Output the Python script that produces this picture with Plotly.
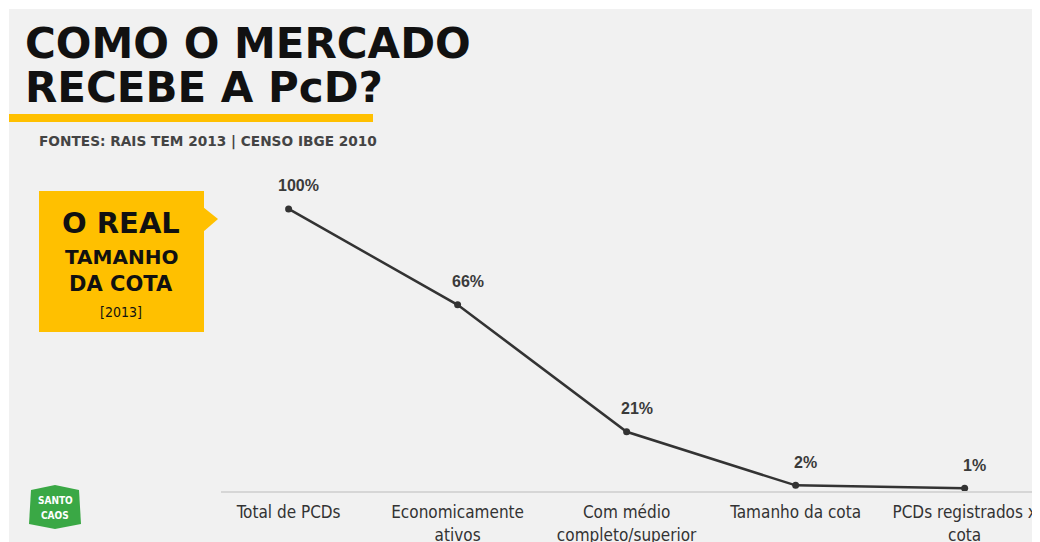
"""Como o mercado recebe a PcD? - line chart recreation."""

import plotly.graph_objects as go

# data
categories = [
    "Total de PCDs",
    "Economicamente<br>ativos",
    "Com médio<br>completo/superior",
    "Tamanho da cota",
    "PCDs registrados x<br>cota",
]
values = [100, 66, 21, 2, 1]
value_labels = ["100%", "66%", "21%", "2%", "1%"]

# page body adds an 8px offset, so the figure is a bit smaller than the window
OFF = 8
W, H = 1040 - OFF, 542 - OFF
YELLOW = "#FFC000"
BG = "#F1F1F1"
NARROW = "Liberation Sans Narrow, DejaVu Sans Condensed, Roboto Condensed, Liberation Sans"


def px(x):
    return (x - OFF) / W


def py(y):
    return 1 - (y - OFF) / H


fig = go.Figure()

fig.add_trace(go.Scatter(
    x=list(range(len(categories))),
    y=values,
    mode="lines+markers",
    line=dict(color="#333333", width=2.5),
    marker=dict(color="#333333", size=7),
    hoverinfo="skip",
))

# value labels above points
for i, (v, lab) in enumerate(zip(values, value_labels)):
    fig.add_annotation(
        x=i, y=v, xref="x", yref="y", text=lab, showarrow=False,
        xshift=10, yshift=23,
        font=dict(family="Liberation Sans", size=16, color="#3a3a3a", weight="bold"),
    )

shapes = [
    # gray card background
    dict(type="rect", xref="paper", yref="paper", x0=px(9), x1=px(1041),
         y0=py(543), y1=py(9), fillcolor=BG, line_width=0, layer="below"),
    # yellow underline
    dict(type="rect", xref="paper", yref="paper", x0=px(9), x1=px(373),
         y0=py(122), y1=py(114), fillcolor=YELLOW, line_width=0),
    # yellow box
    dict(type="rect", xref="paper", yref="paper", x0=px(39), x1=px(204),
         y0=py(332), y1=py(191), fillcolor=YELLOW, line_width=0),
    # box pointer
    dict(type="path", xref="paper", yref="paper",
         path=f"M {px(203)} {py(207)} L {px(218)} {py(219)} L {px(203)} {py(232)} Z",
         fillcolor=YELLOW, line_width=0),
    # logo
    dict(type="path", xref="paper", yref="paper",
         path=(f"M {px(31)} {py(490)} L {px(55)} {py(485)} L {px(79)} {py(490)} "
               f"L {px(81)} {py(524)} L {px(55)} {py(529)} L {px(29)} {py(524)} Z"),
         fillcolor="#3AA845", line_width=0),
]

title_font = dict(family="DejaVu Sans", size=42, color="#111111", weight="bold")
annotations = [
    dict(x=px(23), y=py(44), text="COMO O MERCADO", xanchor="left", yanchor="middle",
         font=title_font),
    dict(x=px(23), y=py(87), text="RECEBE A PcD?", xanchor="left", yanchor="middle",
         font=title_font),
    dict(x=px(37), y=py(141), text="FONTES: RAIS TEM 2013 | CENSO IBGE 2010",
         xanchor="left", yanchor="middle",
         font=dict(family="DejaVu Sans", size=13.7, color="#444444", weight="bold")),
    dict(x=px(121), y=py(223), text="O REAL", xanchor="center", yanchor="middle",
         font=dict(family="DejaVu Sans", size=29, color="#111111", weight="bold")),
    dict(x=px(121), y=py(257), text="TAMANHO", xanchor="center", yanchor="middle",
         font=dict(family="DejaVu Sans", size=20, color="#111111", weight="bold")),
    dict(x=px(121), y=py(284), text="DA COTA", xanchor="center", yanchor="middle",
         font=dict(family="DejaVu Sans", size=21, color="#111111", weight="bold")),
    dict(x=px(121), y=py(312), text="[2013]", xanchor="center", yanchor="middle",
         font=dict(family=NARROW, size=14, color="#111111")),
    dict(x=px(55), y=py(500), text="SANTO", xanchor="center", yanchor="middle",
         font=dict(family=NARROW, size=10, color="white", weight="bold")),
    dict(x=px(55), y=py(515), text="CAOS", xanchor="center", yanchor="middle",
         font=dict(family=NARROW, size=10, color="white", weight="bold")),
]
for a in annotations:
    a.update(xref="paper", yref="paper", showarrow=False)

fig.update_layout(
    width=W, height=H,
    margin=dict(l=0, r=0, t=0, b=0),
    paper_bgcolor="white",
    plot_bgcolor="rgba(0,0,0,0)",
    showlegend=False,
    shapes=shapes,
    annotations=fig.layout.annotations + tuple(annotations),
    xaxis=dict(
        domain=[px(221), px(1039)],
        range=[-0.4, 4.44],
        tickmode="array",
        tickvals=list(range(len(categories))),
        ticktext=categories,
        showline=True, linecolor="#D6D6D6", linewidth=2,
        showgrid=False, zeroline=False, ticks="",
        ticklabelstandoff=5,
        automargin=False,
        tickfont=dict(family=NARROW, size=17, color="#333333"),
        fixedrange=True,
    ),
    yaxis=dict(
        domain=[py(491), py(170)],
        range=[0, 113.8],
        visible=False,
        showgrid=False, zeroline=False,
        fixedrange=True,
    ),
)

fig.write_html("out.html")
